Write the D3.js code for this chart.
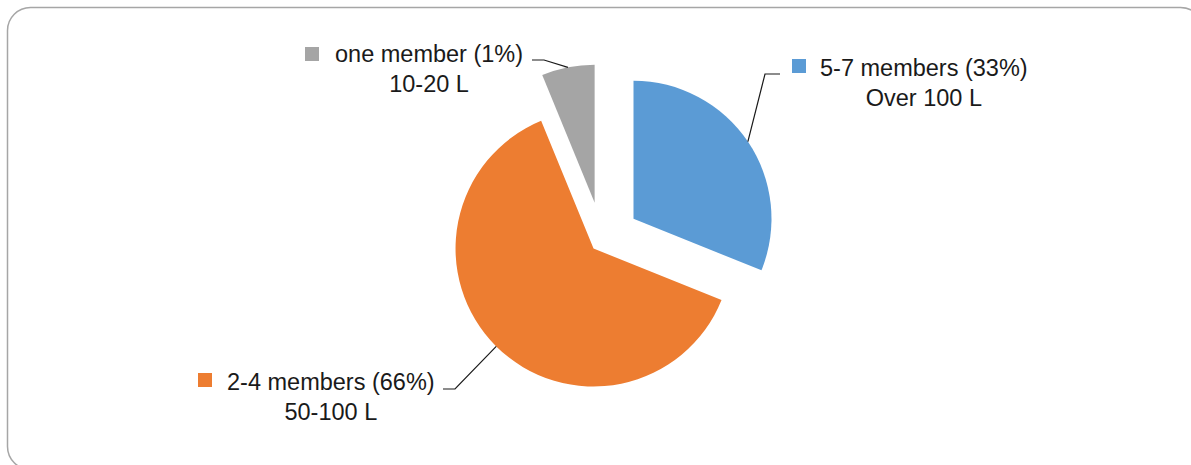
<!DOCTYPE html>
<html>
<head>
<meta charset="utf-8">
<script src="https://cdn.jsdelivr.net/npm/d3@7"></script>
<style>
  body { margin: 0; background: #fff; }
  svg { display: block; }
  text { font-family: "Liberation Sans", Arial, sans-serif; font-size: 23.5px; fill: #1a1a1a; }
</style>
</head>
<body>
<div id="chart"></div>
<script>
// data (slice sizes as drawn, labels as printed)
var categories = ["5-7 members (33%)", "2-4 members (66%)", "one member (1%)"];
var subLabels = ["Over 100 L", "50-100 L", "10-20 L"];
var values = [31.1, 62.7, 6.2];
var colors = ["#5b9bd5", "#ed7d31", "#a5a5a5"];

var width = 1191,
  height = 465;

var cx = 602,
  cy = 240,
  radius = 138;
// how far each slice is pulled out of the pie
var explode = [38, 12, 38];

// label block: marker corner, text start, elbow of the leader line
var labelLayout = [
  { mx: 792, my: 59, tx: 820, ty: 76, ex: 765, ey: 74, lx: 780 },
  { mx: 198, my: 373, tx: 227, ty: 390, ex: 455, ey: 389, lx: 443 },
  { mx: 305, my: 47, tx: 335, ty: 62, ex: 544, ey: 60, lx: 532 }
];

var svg = d3
  .select("#chart")
  .append("svg")
  .attr("width", width)
  .attr("height", height);

// rounded chart frame, runs off the right and bottom edge
svg
  .append("rect")
  .attr("x", 7.5)
  .attr("y", 7.5)
  .attr("width", 1196)
  .attr("height", 462)
  .attr("rx", 23)
  .attr("fill", "#fff")
  .attr("stroke", "#a6a6a6")
  .attr("stroke-width", 1.5);

var pie = d3
  .pie()
  .sort(null)
  .value(function(d) {
    return d;
  });

var arcs = pie(values);

var arc = d3
  .arc()
  .innerRadius(0)
  .outerRadius(radius);

function midAngle(d) {
  return (d.startAngle + d.endAngle) / 2;
}

function offset(d, i) {
  var a = midAngle(d);
  return [cx + explode[i] * Math.sin(a), cy - explode[i] * Math.cos(a)];
}

svg
  .selectAll("path.slice")
  .data(arcs)
  .enter()
  .append("path")
  .attr("class", "slice")
  .attr("transform", function(d, i) {
    var p = offset(d, i);
    return "translate(" + p[0] + "," + p[1] + ")";
  })
  .attr("d", arc)
  .attr("fill", function(d, i) {
    return colors[i];
  });

// leader lines: text end -> elbow -> slice edge at its middle
svg
  .selectAll("path.leader")
  .data(arcs)
  .enter()
  .append("path")
  .attr("class", "leader")
  .attr("fill", "none")
  .attr("stroke", "#1a1a1a")
  .attr("stroke-width", 1.2)
  .attr("d", function(d, i) {
    var p = offset(d, i),
      a = midAngle(d),
      L = labelLayout[i];
    var edge = [p[0] + radius * Math.sin(a), p[1] - radius * Math.cos(a)];
    return d3.line()([[L.lx, L.ey], [L.ex, L.ey], edge]);
  });

var labels = svg
  .selectAll("g.label")
  .data(categories)
  .enter()
  .append("g")
  .attr("class", "label");

labels
  .append("rect")
  .attr("x", function(d, i) {
    return labelLayout[i].mx;
  })
  .attr("y", function(d, i) {
    return labelLayout[i].my;
  })
  .attr("width", 14)
  .attr("height", 14)
  .attr("fill", function(d, i) {
    return colors[i];
  });

labels
  .append("text")
  .attr("class", "main")
  .attr("x", function(d, i) {
    return labelLayout[i].tx;
  })
  .attr("y", function(d, i) {
    return labelLayout[i].ty;
  })
  .text(function(d) {
    return d;
  });

// second line is centred under the first
labels.each(function(d, i) {
  var g = d3.select(this);
  var w = g.select("text.main").node().getComputedTextLength();
  g.append("text")
    .attr("text-anchor", "middle")
    .attr("x", labelLayout[i].tx + w / 2)
    .attr("y", labelLayout[i].ty + 30)
    .text(subLabels[i]);
});
</script>
</body>
</html>
